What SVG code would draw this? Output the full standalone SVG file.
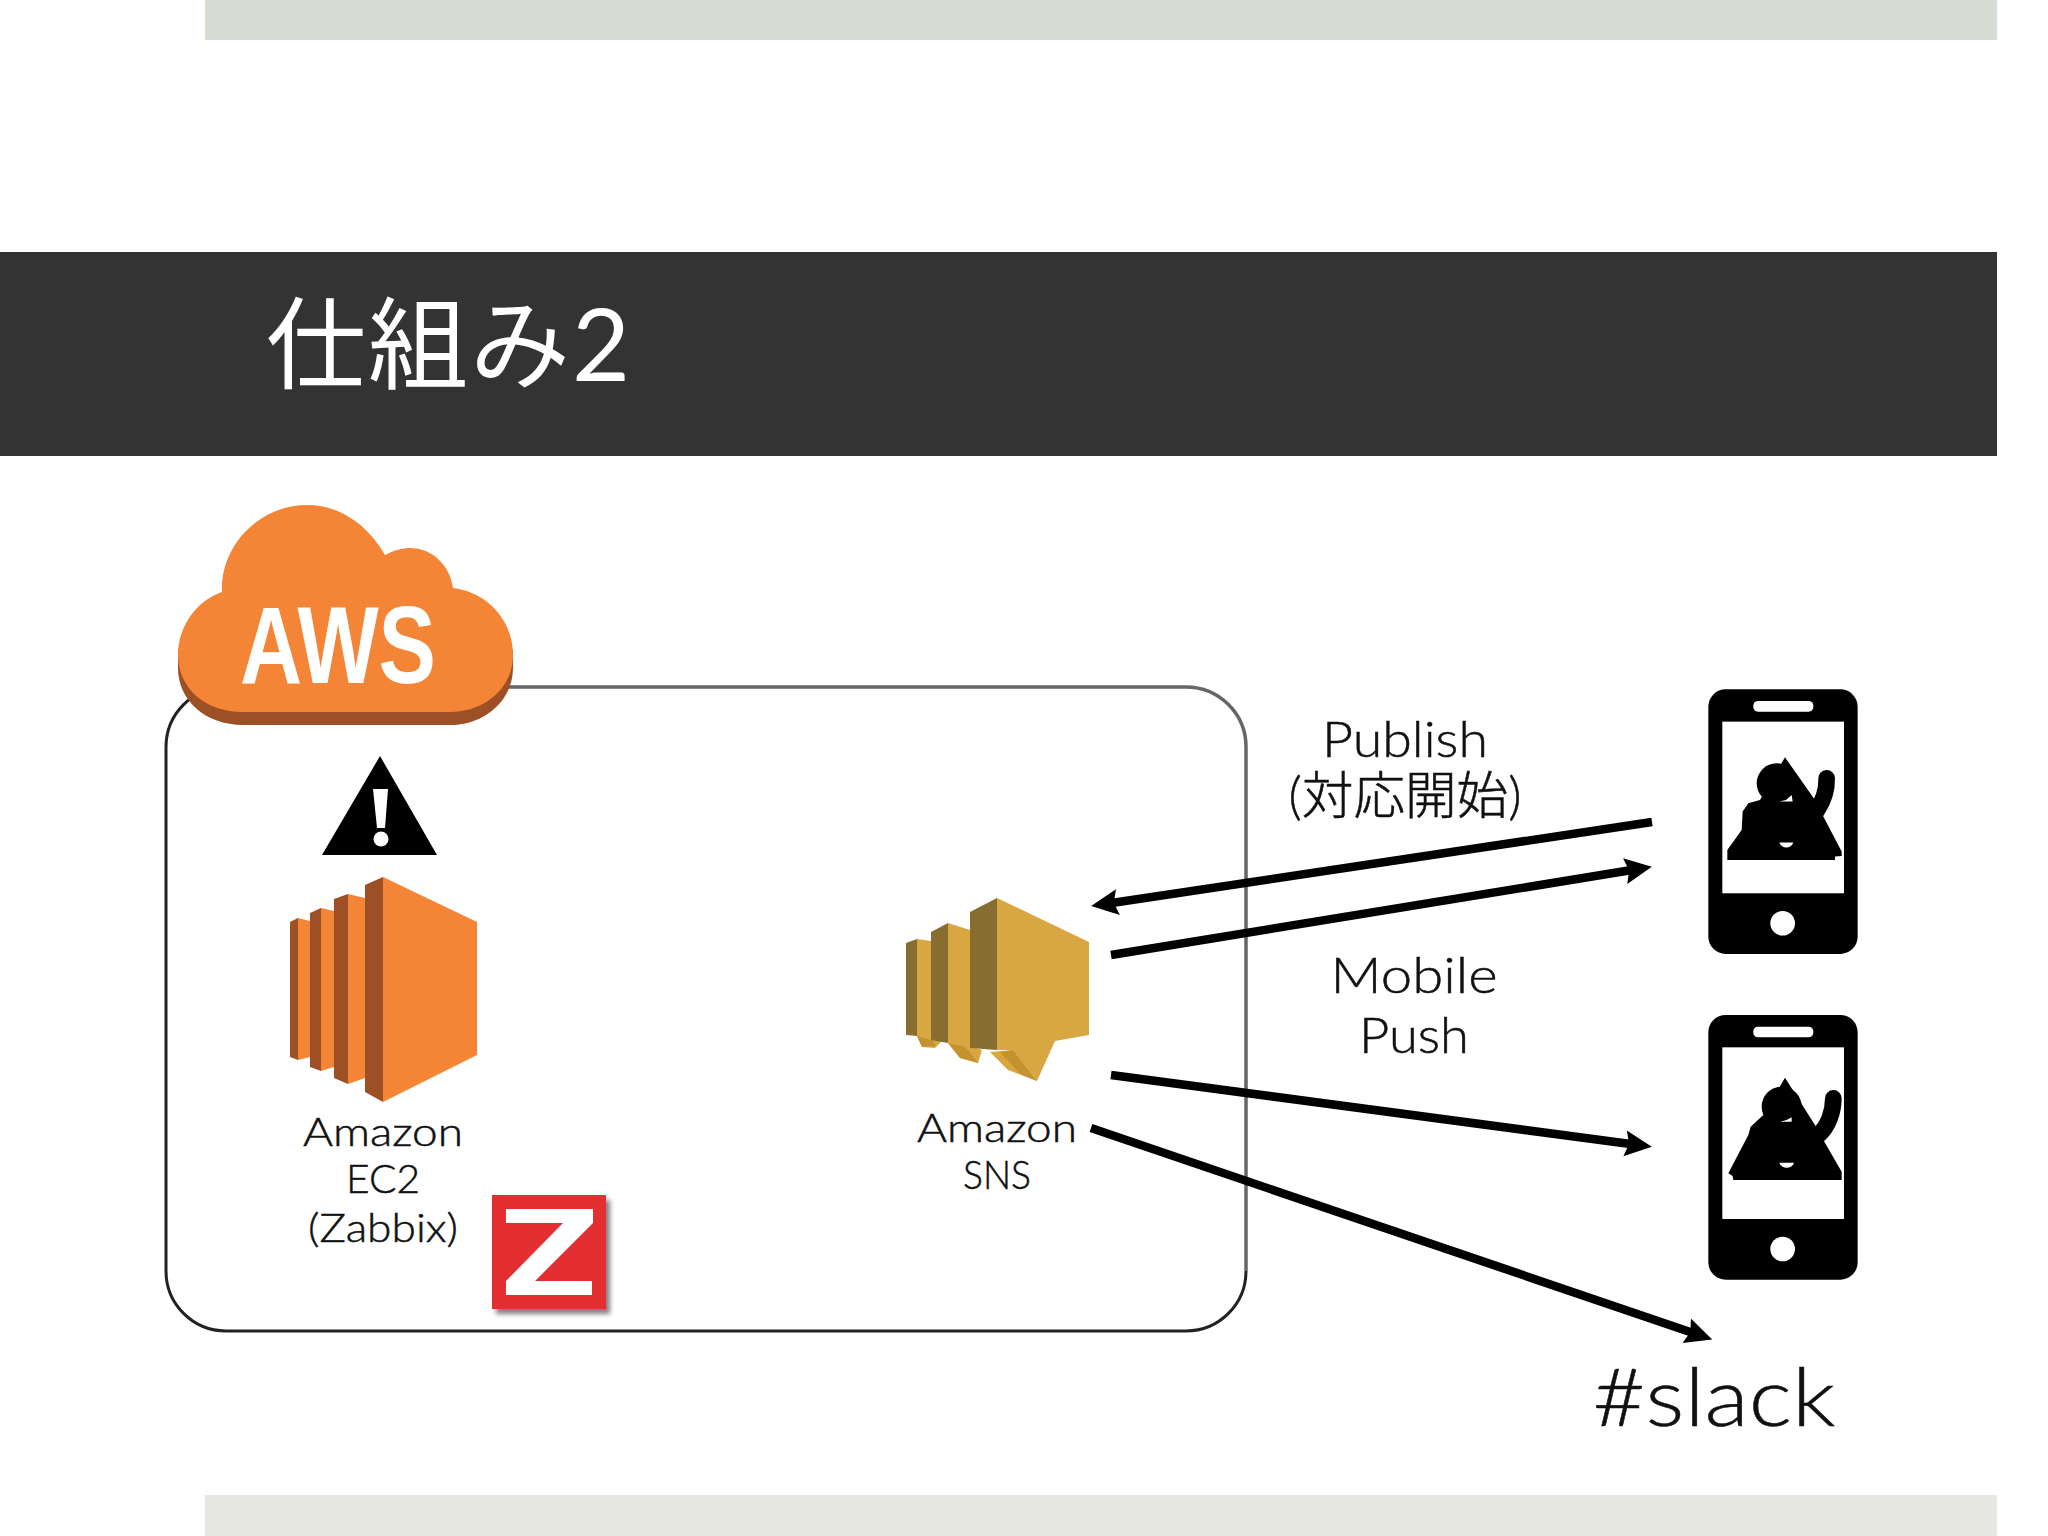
<svg xmlns="http://www.w3.org/2000/svg" width="2048" height="1536" viewBox="0 0 2048 1536">
<style>
.lbl{font-family:"Lato","Noto Sans CJK JP",sans-serif;font-weight:300;fill:#111;stroke:#111;stroke-width:.5;text-anchor:middle}
.org{fill:#f58536}.orgd{fill:#9d5025}
.gld{fill:#d9a741}.gldd{fill:#876d2f}.gldt{fill:#c4922f}
.conn{stroke:#000;stroke-width:8.5;fill:none;marker-end:url(#head)}
.arm{fill:none;stroke:#000;stroke-width:50;stroke-linecap:round;stroke-linejoin:round}
</style>
<defs>
<marker id="head" markerUnits="userSpaceOnUse" markerWidth="30" markerHeight="28" refX="13" refY="13.5" orient="auto"><path d="M0 0.5L27 13.5L0 26.5L4 13.5Z" fill="#000"/></marker>
<filter id="sh" x="-10%" y="-10%" width="125%" height="125%"><feDropShadow dx="4" dy="5" stdDeviation="2.5" flood-color="#555" flood-opacity=".75"/></filter>
<g id="phoneBody">
<rect x="85" y="0" width="448" height="794" rx="52" fill="#000"/>
<rect x="127" y="97" width="365" height="515" fill="#fff"/>
<rect x="220" y="35" width="180" height="32" rx="14" fill="#fff"/>
<circle cx="308" cy="702" r="37" fill="#fff"/>
</g>
</defs>
<rect width="2048" height="1536" fill="#fff"/>
<rect id="band-top" x="205" y="0" width="1792" height="40" fill="#d9dcd3"/>
<rect id="band-bottom" x="205" y="1495" width="1792" height="41" fill="#e5e7e0"/>
<g id="title">
<rect x="0" y="252" width="1997" height="204" fill="#333"/>
<text x="266" y="381" font-family="Lato,'Noto Sans CJK JP',sans-serif" font-weight="400" font-size="100" fill="#fff" textLength="364" lengthAdjust="spacing">仕組み2</text>
</g>
<g id="vpc">
<path d="M226 687H1186A60 60 0 0 1 1246 747V1271" fill="none" stroke="#666" stroke-width="3.5"/>
<path d="M1246 1271A60 60 0 0 1 1186 1331H226A60 60 0 0 1 166 1271V747A60 60 0 0 1 226 687" fill="none" stroke="#222" stroke-width="3"/>
</g>
<g id="aws-cloud">
<path class="orgd" d="M178 650V668C178 700 205 725 243 725H450C485 725 513 700 513 668V650Z"/>
<path class="org" d="M178 655C178 625 198 600 222 592C220 545 260 505 307 505C340 505 368 525 385 555C395 550 402 548 410 548C432 548 450 565 453 588C487 592 513 620 513 655C513 688 485 712 450 712H243C205 712 178 688 178 655Z"/>
<text x="240" y="683" font-family="Liberation Sans,sans-serif" font-weight="700" font-size="110" fill="#fff" textLength="196" lengthAdjust="spacingAndGlyphs">AWS</text>
</g>
<g id="alert">
<polygon points="380,756 437,855 322,855" fill="#000"/>
<polygon points="373,789 388,789 385,828 377,828" fill="#fff"/>
<circle cx="381" cy="839" r="7.5" fill="#fff"/>
</g>
<g id="ec2">
<polygon class="orgd" points="290,922 298,918 298,1060 290,1057"/>
<polygon class="org" points="298,918 310,921 310,1057 298,1060"/>
<polygon class="orgd" points="310,913 321,908 321,1071 310,1067"/>
<polygon class="org" points="321,908 334,911 334,1067 321,1071"/>
<polygon class="orgd" points="334,899 348,894 348,1084 334,1078"/>
<polygon class="org" points="348,894 365,898 365,1078 348,1084"/>
<polygon class="orgd" points="365,885 383,877 383,1102 365,1092"/>
<polygon class="org" points="383,877 477,922 477,1055 383,1102"/>
<text class="lbl" x="383" y="1146" font-size="40" textLength="160" lengthAdjust="spacingAndGlyphs">Amazon</text>
<text class="lbl" x="383" y="1193" font-size="40" textLength="74" lengthAdjust="spacingAndGlyphs">EC2</text>
<text class="lbl" x="383" y="1242" font-size="40" textLength="150" lengthAdjust="spacingAndGlyphs">(Zabbix)</text>
</g>
<g id="zabbix">
<rect x="492" y="1195" width="114" height="114" fill="#e32f32" filter="url(#sh)"/>
<polygon fill="#fff" points="506,1209 593,1209 593,1223 535,1281 592,1281 592,1295 506,1295 506,1281 563,1223 506,1223"/>
</g>
<g id="sns">
<polygon class="gld" points="917,1036 922,1047 935,1048 943,1040"/>
<polygon class="gldt" points="917,1036 930,1036 936,1046 922,1047"/>
<polygon class="gldd" points="906,943 917,939 917,1036 906,1035"/>
<polygon class="gld" points="917,939 931,941 931,1040 917,1036"/>
<polygon class="gld" points="948,1043 960,1058 978,1063 982,1050 958,1042"/>
<polygon class="gldt" points="958,1042 968,1050 978,1063 960,1058 948,1043"/>
<polygon class="gldd" points="931,932 948,923 948,1043 931,1040"/>
<polygon class="gld" points="948,923 970,930 970,1048 948,1043"/>
<polygon class="gld" points="990,1052 1008,1070 1037,1081 1013,1050"/>
<polygon class="gldd" points="970,912 997,898 997,1050 970,1048"/>
<polygon class="gld" points="997,898 1089,942 1089,1035 1055,1041 1037,1081 1013,1050 997,1050"/>
<polygon class="gldt" points="1000,1052 1013,1050 1037,1081 1020,1074"/>
<text class="lbl" x="997" y="1142" font-size="40" textLength="160" lengthAdjust="spacingAndGlyphs">Amazon</text>
<text class="lbl" x="997" y="1189" font-size="40" textLength="68" lengthAdjust="spacingAndGlyphs">SNS</text>
</g>
<g id="connectors">
<path class="conn" d="M1652 822L1105 904"/>
<path class="conn" d="M1111 955L1638 869"/>
<path class="conn" d="M1111 1075L1638 1145"/>
<path class="conn" d="M1091 1128L1699 1335"/>
</g>
<g id="label-publish">
<text class="lbl" x="1405" y="757" font-size="50" textLength="166" lengthAdjust="spacingAndGlyphs">Publish</text>
<text class="lbl" x="1405" y="814" font-size="51" textLength="233" lengthAdjust="spacingAndGlyphs">(対応開始)</text>
</g>
<g id="label-push">
<text class="lbl" x="1414" y="993" font-size="50" textLength="167" lengthAdjust="spacingAndGlyphs">Mobile</text>
<text class="lbl" x="1414" y="1053" font-size="50" textLength="110" lengthAdjust="spacingAndGlyphs">Push</text>
</g>
<g id="phone-1" transform="translate(1680 689.3) scale(.3333)">
<use href="#phoneBody"/>
<polygon points="142,512 142,482 185,422 188,367 205,342 240,332 315,204 405,332 430,382 485,487 485,500 465,502 465,512"/>
<circle cx="290" cy="282" r="60"/>
<path class="arm" d="M440 267C441 300 430 335 410 365"/>
<polygon fill="#fff" points="298,337 338,337 335,317 318,332"/>
<path fill="#fff" d="M298 460H340C334 480 304 480 298 460Z"/>
</g>
<g id="phone-2" transform="translate(1680 1015) scale(.3333)">
<use href="#phoneBody"/>
<polygon points="145,475 205,360 212,335 250,300 315,188 405,330 430,375 485,470 485,495 160,495 158,483"/>
<circle cx="305" cy="275" r="60"/>
<path class="arm" d="M460 250C460 290 445 335 415 360"/>
<polygon fill="#fff" points="300,320 335,320 335,307 320,315"/>
<path fill="#fff" d="M298 443H342C336 463 304 463 298 443Z"/>
</g>
<g id="slack">
<text class="lbl" x="1714" y="1426" font-size="80" textLength="243" lengthAdjust="spacingAndGlyphs">#slack</text>
</g>
</svg>
